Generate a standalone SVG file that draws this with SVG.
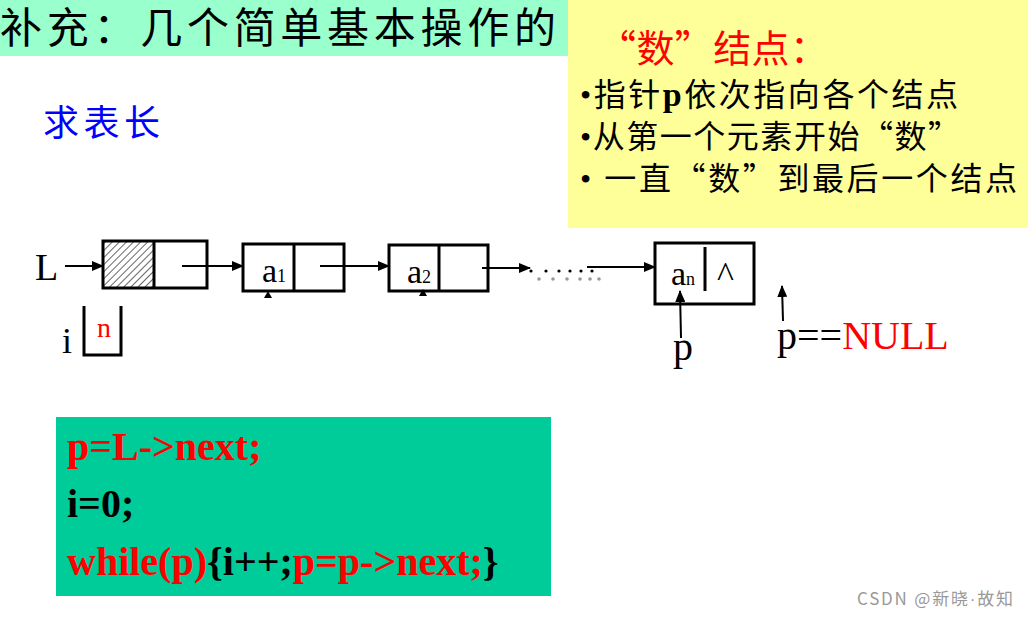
<svg xmlns="http://www.w3.org/2000/svg" width="1028" height="617" viewBox="0 0 1028 617">
<style>
.cjk{font-family:"Noto Sans CJK SC","Noto Sans",sans-serif}
.ser{font-family:"Liberation Serif","Times New Roman",serif}
.box{fill:none;stroke:#000;stroke-width:3}
.con{stroke:#000;stroke-width:2;fill:none}
.code{font-family:"Liberation Serif","Times New Roman",serif;font-weight:bold;font-size:40px}
.red{fill:#FF0000}
</style>
<defs>
<marker id="ah" markerWidth="12" markerHeight="10" refX="11" refY="5" orient="auto" markerUnits="userSpaceOnUse">
<path d="M0,0 L12,5 L0,10 z" fill="#000"/>
</marker>
<pattern id="hatch" width="5" height="5" patternUnits="userSpaceOnUse" patternTransform="rotate(45)">
<line x1="0" y1="0" x2="0" y2="5" stroke="#000" stroke-width="1.2"/>
</pattern>
</defs>
<rect width="1028" height="617" fill="#fff"/>

<g id="title">
<rect x="0" y="0" width="568" height="56" fill="#99FFCC"/>
<text class="cjk" x="0" y="43" font-size="42" textLength="556" lengthAdjust="spacing">补充：几个简单基本操作的</text>
</g>

<g id="note">
<rect x="568" y="0" width="460" height="228" fill="#FFFF99"/>
<text class="cjk red" x="598" y="62" font-size="38" textLength="230" lengthAdjust="spacing">“数”结点：</text>
<text class="cjk" x="580" y="106" font-size="32" textLength="378" lengthAdjust="spacing"><tspan class="ser">•</tspan>指针<tspan class="ser" font-weight="bold" font-size="34">p</tspan>依次指向各个结点</text>
<text class="cjk" x="580" y="148" font-size="32" textLength="380" lengthAdjust="spacing"><tspan class="ser">•</tspan>从第一个元素开始“数”</text>
<text class="cjk" x="580" y="190" font-size="32" textLength="437" lengthAdjust="spacing"><tspan class="ser">• </tspan>一直“数”到最后一个结点</text>
</g>

<g id="heading">
<text class="cjk" x="43" y="136" font-size="36" fill="#0000FF" textLength="117" lengthAdjust="spacing">求表长</text>
</g>

<g id="L-label">
<text class="ser" x="35" y="280" font-size="38">L</text>
</g>

<g id="head">
<rect x="103" y="241" width="51" height="47" fill="url(#hatch)"/>
<rect x="103" y="241" width="104" height="47" class="box"/>
<line x1="154" y1="241" x2="154" y2="288" class="box"/>
</g>

<g id="node-a1">
<rect x="243" y="244" width="101" height="47" class="box"/>
<line x1="294" y1="244" x2="294" y2="291" class="box"/>
<text class="ser" x="262" y="282" font-size="34">a<tspan font-size="18">1</tspan></text>
</g>

<g id="node-a2">
<rect x="389" y="245" width="99" height="46" class="box"/>
<line x1="439" y1="245" x2="439" y2="291" class="box"/>
<text class="ser" x="407" y="283" font-size="34">a<tspan font-size="18">2</tspan></text>
</g>

<g id="node-an">
<rect x="655" y="243" width="99" height="61" class="box"/>
<line x1="705" y1="247" x2="705" y2="291" class="box"/>
<text class="ser" x="671" y="285" font-size="34">a<tspan font-size="18">n</tspan></text>
<text class="ser" x="717" y="287" font-size="36">^</text>
</g>

<g id="counter">
<text class="ser" x="62" y="353" font-size="36">i</text>
<path d="M84,306 V355 H121 V306" class="box"/>
<text class="ser red" x="97" y="337" font-size="28">n</text>
</g>

<g id="p-label">
<text class="ser" x="673" y="360" font-size="40">p</text>
</g>

<g id="null-label">
<text class="ser" x="777" y="349" font-size="40">p==<tspan class="red">NULL</tspan></text>
</g>

<g id="connectors">
<line x1="65" y1="266" x2="103" y2="266" class="con" marker-end="url(#ah)"/>
<line x1="182" y1="266" x2="243" y2="266" class="con" marker-end="url(#ah)"/>
<line x1="320" y1="266" x2="389" y2="266" class="con" marker-end="url(#ah)"/>
<line x1="482" y1="268" x2="530" y2="268" class="con" marker-end="url(#ah)"/>
<line x1="587" y1="267" x2="655" y2="267" class="con" marker-end="url(#ah)"/>
<line x1="681" y1="338" x2="680" y2="291" class="con" marker-end="url(#ah)"/>
<line x1="783" y1="321" x2="782" y2="286" class="con" marker-end="url(#ah)"/>
<path d="M264,298 L272,298 L268,291 z" fill="#000"/>
<path d="M419,296 L427,296 L423,289 z" fill="#000"/>
<g fill="#000">
<circle cx="531" cy="271" r="1.6"/><circle cx="546" cy="271" r="1.6"/><circle cx="559" cy="271" r="1.6"/>
<circle cx="570" cy="271" r="1.6"/><circle cx="581" cy="271" r="1.6"/><circle cx="592" cy="271" r="1.6"/>
</g>
<g fill="#999">
<circle cx="539" cy="279" r="1.8"/><circle cx="553" cy="279" r="1.8"/><circle cx="567" cy="279" r="1.8"/>
<circle cx="580" cy="279" r="1.8"/><circle cx="590" cy="279" r="1.8"/><circle cx="599" cy="279" r="1.8"/>
</g>
</g>

<g id="code">
<rect x="56" y="417" width="495" height="179" fill="#00CC99"/>
<text class="code red" x="67" y="460">p=L-&gt;next;</text>
<text class="code" x="67" y="517">i=0;</text>
<text class="code" x="67" y="575"><tspan class="red">while(p)</tspan>{i++;<tspan class="red">p=p-&gt;next;</tspan>}</text>
</g>

<g id="watermark">
<text x="857" y="605" font-family="'Noto Sans CJK SC','Noto Sans',sans-serif" font-size="17" fill="#999" textLength="156" lengthAdjust="spacing">CSDN @新晓<tspan font-family="'Liberation Sans',sans-serif">·</tspan>故知</text>
</g>
</svg>
